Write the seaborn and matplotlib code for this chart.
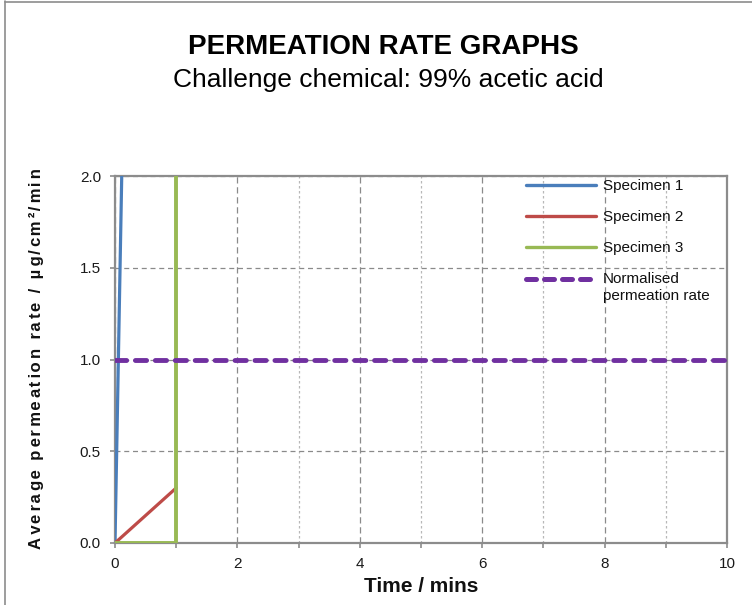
import matplotlib
matplotlib.use("Agg")
import numpy as np
import matplotlib.pyplot as plt
import seaborn as sns
import pandas as pd
from matplotlib.lines import Line2D
from matplotlib.legend_handler import HandlerLine2D
from matplotlib.ticker import MultipleLocator, FormatStrFormatter

sns.set_theme(style="white")
plt.rcParams['font.family'] = ['Liberation Sans', 'DejaVu Sans']

# ---- data ----
spec1_time = [0.0, 0.11]
spec1_rate = [0.0, 2.0]
spec2_time = [0.0, 1.0]
spec2_rate = [0.0, 0.3]
spec3_time = [0.0, 1.0, 1.0]
spec3_rate = [0.0, 0.0, 2.0]
norm_time = [0.0, 10.0]
norm_rate = [1.0, 1.0]

labels = ["Specimen 1", "Specimen 2", "Specimen 3", "Normalised\npermeation rate"]
colors = ["#4A7EBB", "#BE4B48", "#98B954", "#7030A0"]

title = "PERMEATION RATE GRAPHS"
subtitle = "Challenge chemical: 99% acetic acid"
xlabel = "Time / mins"
ylabel = "Average permeation rate / µg/cm²/min"

W, H = 752, 605
fig = plt.figure(figsize=(W / 100, H / 100), dpi=100)
ax = fig.add_axes([115 / W, 1 - 543 / H, (727 - 115) / W, (543 - 176) / H])

series = [(spec1_time, spec1_rate), (spec2_time, spec2_rate), (spec3_time, spec3_rate)]
widths = [2.3, 2.3, 2.8]
for (t, r), c, lw in zip(series, colors[:3], widths):
    df = pd.DataFrame({"t": t, "r": r})
    sns.lineplot(data=df, x="t", y="r", ax=ax, color=c, lw=lw, estimator=None,
                 sort=False, legend=False, zorder=4)
dfn = pd.DataFrame({"t": norm_time, "r": norm_rate})
sns.lineplot(data=dfn, x="t", y="r", ax=ax, color=colors[3], lw=3.5, estimator=None,
             sort=False, legend=False, zorder=5)
ax.lines[-1].set_dashes([2.3, 1.8])
ax.lines[-1].set_dash_capstyle("round")

ax.set_xlim(0, 10)
ax.set_ylim(0, 2.0)
ax.xaxis.set_major_locator(MultipleLocator(2))
ax.xaxis.set_minor_locator(MultipleLocator(1))
ax.yaxis.set_major_locator(MultipleLocator(0.5))
ax.xaxis.set_major_formatter(FormatStrFormatter("%d"))
ax.yaxis.set_major_formatter(FormatStrFormatter("%.1f"))

ax.grid(False)
ax.grid(axis="y", which="major", color="#8a8a8a", lw=0.9, ls=(0, (4, 3)))
ax.grid(axis="x", which="major", color="#8a8a8a", lw=0.9, ls=(0, (5, 3)))
ax.grid(axis="x", which="minor", color="#b8b8b8", lw=0.9, ls=(0, (2, 2)))

for s in ax.spines.values():
    s.set_visible(True)
    s.set_color("#8c8c8c")
    s.set_linewidth(1.6)

ax.tick_params(axis="both", which="both", direction="out", color="#8c8c8c",
               width=1.2, labelsize=11, labelcolor="#1a1a1a")
ax.tick_params(axis="x", which="both", length=3.5, pad=6.5, bottom=True)
ax.tick_params(axis="y", which="major", length=3.6, pad=6.5, left=True)

ax.set_xlabel("")
ax.set_ylabel("")
fig.text(421 / W, 1 - 592 / H, xlabel, ha="center", va="baseline",
         fontsize=15, fontweight="bold", color="#111111")

# y label with widened letter spacing (thin / hair spaces alternating)
seps = ["\u2009", "\u200a"]
spaced = ylabel[0]
for i, ch in enumerate(ylabel[1:]):
    spaced += seps[i % 2] + ch
fig.text(37 / W, 1 - 359 / H, spaced, rotation=90, ha="center", va="center",
         fontsize=12, fontweight="bold", color="#111111")

fig.text(383.5 / W, 1 - 54 / H, title, ha="center", va="baseline", fontsize=20,
         fontweight="bold", color="black")
fig.text(388 / W, 1 - 87 / H, subtitle, ha="center", va="baseline", fontsize=19,
         color="black")


class UpHandler(HandlerLine2D):
    def __init__(self, shift, **kw):
        super().__init__(**kw)
        self.shift = shift

    def create_artists(self, legend, orig_handle, xdescent, ydescent, width,
                       height, fontsize, trans):
        arts = super().create_artists(legend, orig_handle, xdescent, ydescent,
                                      width, height, fontsize, trans)
        for a in arts:
            a.set_ydata(np.asarray(a.get_ydata()) + self.shift)
        return arts


handles = [Line2D([0], [0], color=c, lw=2.4) for c in colors[:3]]
norm_handle = Line2D([0], [0], color=colors[3], lw=3.6, dashes=[2.0, 1.6],
                     dash_capstyle="round")
handles.append(norm_handle)
leg = ax.legend(handles, labels, loc="upper left", bbox_to_anchor=(526 / W, 1 - 179 / H),
                bbox_transform=fig.transFigure, frameon=False, fontsize=11,
                handlelength=4.6, handletextpad=0.45, labelspacing=1.12,
                borderaxespad=0, borderpad=0,
                handler_map={norm_handle: UpHandler(6.0)})
for t in leg.get_texts():
    t.set_color("#111111")
    t.set_linespacing(1.2)

# figure frame
fig.add_artist(Line2D([4.5 / W, 4.5 / W], [0, 1 - 1 / H], transform=fig.transFigure,
                      color="#8c8c8c", lw=1.2))
fig.add_artist(Line2D([4.5 / W, 1], [1 - 1.5 / H, 1 - 1.5 / H], transform=fig.transFigure,
                      color="#8c8c8c", lw=1.2))

fig.savefig("out.png", dpi=100, facecolor="white")
